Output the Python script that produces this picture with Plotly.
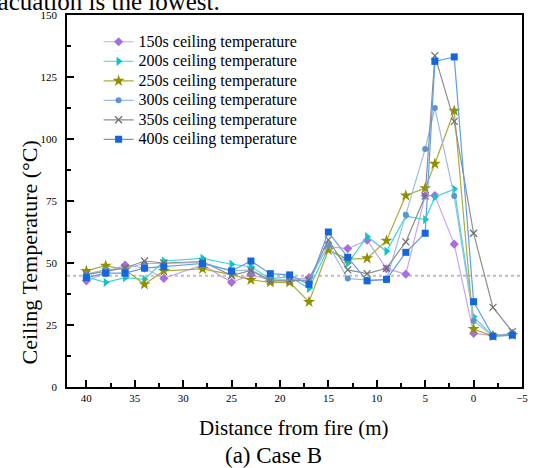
import plotly.graph_objects as go

# ---- data ----
distance = [40, 38, 36, 34, 32, 28, 25, 23, 21, 19, 17, 15, 13, 11, 9, 7, 5, 4, 2, 0, -2, -4]

t150 = [42.8, 46.0, 49.2, 48.0, 43.8, 49.2, 42.2, 45.2, 43.2, 43.2, 44.1, 56.6, 55.8, 59.2, 47.7, 45.5, 77.2, 77.2, 57.6, 21.6, 20.7, 21.6]
t200 = [44.3, 42.2, 44.1, 43.4, 50.8, 51.9, 49.5, 48.5, 43.6, 44.5, 39.8, 56.0, 49.9, 60.6, 54.7, 68.9, 67.5, 76.6, 79.8, 28.3, 20.5, 21.3]
t250 = [46.8, 48.9, 47.3, 41.4, 46.8, 47.6, 45.3, 43.2, 42.2, 42.2, 34.3, 55.3, 51.6, 51.9, 59.0, 77.2, 80.2, 90.0, 111.4, 23.4, 20.5, 21.0]
t300 = [45.5, 47.3, 47.8, 49.8, 49.8, 50.2, 46.8, 47.2, 43.2, 43.0, 42.8, 57.3, 43.7, 43.2, 43.2, 69.5, 96.0, 112.5, 77.0, 26.6, 20.5, 21.0]
t350 = [45.3, 46.5, 48.0, 50.8, 50.0, 50.6, 44.9, 47.0, 42.8, 42.8, 43.2, 59.3, 47.2, 45.7, 47.9, 58.5, 77.0, 133.6, 107.1, 62.0, 32.1, 22.3]
t400 = [44.1, 45.9, 45.9, 47.9, 48.5, 49.8, 46.8, 50.8, 45.7, 45.2, 41.4, 62.5, 52.3, 42.8, 43.4, 54.3, 62.0, 131.3, 133.1, 34.4, 20.5, 20.9]

series_names = ["150s ceiling temperature", "200s ceiling temperature", "250s ceiling temperature",
                "300s ceiling temperature", "350s ceiling temperature", "400s ceiling temperature"]
series_values = [t150, t200, t250, t300, t350, t400]

ambient_temp = 44.9
x_ticks = [40, 35, 30, 25, 20, 15, 10, 5, 0, -5]
y_ticks = [0, 25, 50, 75, 100, 125, 150]

# ---- styles ----
line_colors = ["#C9A6EE", "#3FD6D8", "#ABAB3A", "#9CBDE3", "#8E8E8E", "#5E9EEC"]
marker_colors = ["#A96DDD", "#14C3C8", "#8F8F00", "#5F93CC", "#6E6E6E", "#1466DA"]
symbols = ["diamond", "triangle-right", "star", "circle", "x-thin", "square"]
sizes = [7, 8, 9, 6, 7, 7]

FONT = "Liberation Serif"
W, H = 533, 468
L, R, T, B = 67, 5, 15, 81
pw, ph = W - L - R, H - T - B


def px_x(p):
    return (p - L) / pw


def px_y(p):
    return (H - B - p) / ph


fig = go.Figure()
for name, vals, lc, mc, sym, sz in zip(series_names, series_values, line_colors, marker_colors, symbols, sizes):
    marker = dict(symbol=sym, size=sz, color=mc)
    if sym == "x-thin":
        marker["line"] = dict(width=1.2, color=mc)
    fig.add_trace(go.Scatter(
        x=distance, y=vals, mode="lines+markers", name='<span style="font-size:16px">' + name + '</span>',
        line=dict(color=lc, width=1.2), marker=marker,
    ))

fig.add_shape(type="line", xref="paper", x0=0, x1=1, yref="y", y0=ambient_temp, y1=ambient_temp,
              line=dict(color="#BDBDBD", width=2, dash="dot"), layer="below")

axis_common = dict(
    showline=True, linecolor="black", linewidth=1.5, mirror=True,
    ticks="inside", ticklen=7, tickwidth=1.5, tickcolor="black",
    showgrid=False, zeroline=False,
    tickfont=dict(family=FONT, size=11, color="black"),
)

fig.update_xaxes(range=[42, -5], tickvals=x_ticks, ticklabelstandoff=0,
                 minor=dict(dtick=2.5, tick0=0, ticks="inside", ticklen=4, tickwidth=1.5, tickcolor="black"),
                 **axis_common)
fig.update_yaxes(range=[0, 150], tickvals=y_ticks, ticklabelstandoff=6,
                 minor=dict(dtick=12.5, tick0=0, ticks="inside", ticklen=4, tickwidth=1.5, tickcolor="black"),
                 **axis_common)

annotations = [
    dict(text="Ceiling Temperature (\u00b0C)", x=px_x(29), y=px_y(252), textangle=-90,
         font=dict(family=FONT, size=22, color="black")),
    dict(text="Distance from fire (m)", x=px_x(297), y=px_y(428),
         font=dict(family=FONT, size=21, color="black")),
    dict(text="(a) Case B", x=px_x(276), y=px_y(455),
         font=dict(family=FONT, size=23, color="black")),
    dict(text="evacuation is the lowest.", x=px_x(224), y=px_y(17), xanchor="right", yanchor="bottom",
         font=dict(family=FONT, size=25, color="black")),
]
for a in annotations:
    a.setdefault("xanchor", "center")
    a.setdefault("yanchor", "middle")
    fig.add_annotation(xref="paper", yref="paper", showarrow=False, **a)

fig.update_layout(
    width=W, height=H, margin=dict(l=L, r=R, t=T, b=B),
    paper_bgcolor="white", plot_bgcolor="white",
    font=dict(family=FONT, color="black"),
    showlegend=True,
    legend=dict(x=px_x(99), xanchor="left", y=px_y(27), yanchor="top",
                bgcolor="rgba(0,0,0,0)", font=dict(family=FONT, size=12.7, color="black"),
                itemwidth=30, tracegroupgap=0),
)

fig.write_html("out.html")
